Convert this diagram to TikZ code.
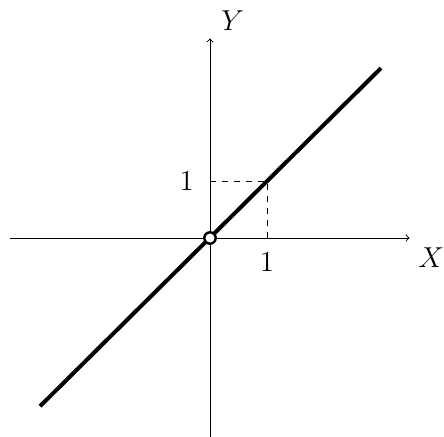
\documentclass[tikz,border=0pt]{standalone}
\begin{document}
\begin{tikzpicture}[font=\fontsize{14.4}{17}\selectfont]
\tikzset{axis/.style={->, line width=0.45pt},
  graphline/.style={line width=2pt},
  helper/.style={dashed, line width=0.45pt},
  lbl/.style={inner sep=0pt}}
\useasboundingbox (-3.684,-3.491) rectangle (4.105,4.175);
\coordinate (xs) at (-3.5,0);
\coordinate (xe) at (3.5,0);
\coordinate (ys) at (0,-3.5);
\coordinate (ye) at (0,3.5);
\coordinate (O) at (0,0);
\coordinate (P) at (1,1);
\coordinate (Px) at (1,0);
\coordinate (Py) at (0,1);
\coordinate (la) at (-2.98,-2.95);
\coordinate (lb) at (3,2.98);
\draw[axis] (xs) -- (xe);
\draw[axis] (ys) -- (ye);
\node[lbl] (X) at (3.88,-0.35) {$X$};
\node[lbl] (Y) at (0.4,3.81) {$Y$};
\draw[helper] (Py) -- (P) -- (Px);
\node[lbl] (t1x) at (1,-0.43) {$1$};
\node[lbl] (t1y) at (-0.41,1) {$1$};
\draw[graphline] (la) -- (lb);
\draw[line width=1.2pt, fill=white] (O) circle (0.1);
\end{tikzpicture}
\end{document}
